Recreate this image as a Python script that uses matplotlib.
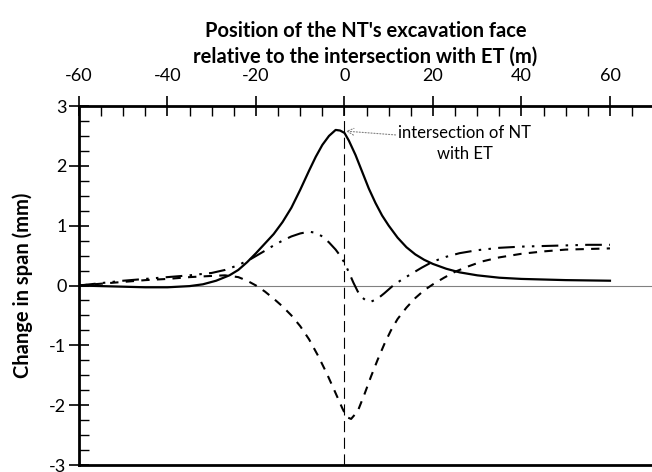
import numpy as np
import matplotlib
matplotlib.use("Agg")
import matplotlib.pyplot as plt
from matplotlib.ticker import MultipleLocator

plt.rcParams['font.family'] = ['Lato', 'DejaVu Sans']
plt.rcParams['axes.unicode_minus'] = False

# solid curve
x_solid = [-60, -55, -50, -45, -40, -35, -32, -29, -26, -24, -22, -20, -18, -16, -14, -12, -10, -8, -6.5, -5, -3.5, -2, -1, 0, 1, 2.5, 4, 5.5, 7, 8.5, 10, 12, 14, 16, 18, 20, 23, 26, 30, 35, 40, 45, 50, 55, 60]
y_solid = [0.0, -0.01, -0.02, -0.03, -0.03, -0.01, 0.02, 0.08, 0.17, 0.26, 0.39, 0.54, 0.7, 0.86, 1.06, 1.3, 1.6, 1.92, 2.15, 2.35, 2.5, 2.6, 2.59, 2.55, 2.42, 2.18, 1.9, 1.62, 1.38, 1.17, 1.0, 0.8, 0.64, 0.52, 0.43, 0.36, 0.28, 0.22, 0.17, 0.13, 0.11, 0.1, 0.09, 0.085, 0.08]

# short dashed curve
x_dash = [-60, -55, -50, -45, -40, -35, -30, -27, -24, -22, -20, -18, -16, -14, -12, -10, -8, -6, -4, -2, -0.5, 0.5, 1.5, 3, 4.5, 6, 7.5, 9, 10.5, 12, 14, 16, 18, 20, 22.5, 25, 28, 31, 35, 40, 45, 50, 55, 60]
y_dash = [0.0, 0.03, 0.06, 0.09, 0.11, 0.14, 0.16, 0.17, 0.14, 0.08, 0.0, -0.1, -0.22, -0.35, -0.5, -0.68, -0.9, -1.17, -1.47, -1.8, -2.05, -2.2, -2.23, -2.1, -1.82, -1.52, -1.24, -0.98, -0.75, -0.56, -0.37, -0.21, -0.08, 0.02, 0.13, 0.23, 0.32, 0.4, 0.47, 0.53, 0.57, 0.6, 0.61, 0.62]

# dash-dot-dot curve
x_dd = [-60, -55, -50, -45, -40, -35, -30, -27, -24, -21, -18, -16, -14, -12, -10, -8, -6.5, -5, -3.5, -2, -1, 0, 1, 2, 3, 4, 5, 6, 7.5, 9, 11, 13, 15, 17.5, 20, 23, 26, 30, 35, 40, 45, 50, 55, 60]
y_dd = [0.0, 0.04, 0.08, 0.11, 0.14, 0.17, 0.21, 0.26, 0.34, 0.45, 0.58, 0.67, 0.75, 0.82, 0.87, 0.9, 0.88, 0.82, 0.72, 0.6, 0.5, 0.38, 0.22, 0.05, -0.1, -0.2, -0.26, -0.27, -0.22, -0.13, 0.0, 0.1, 0.19, 0.3, 0.4, 0.48, 0.54, 0.59, 0.63, 0.65, 0.66, 0.67, 0.68, 0.68]

fig = plt.figure(figsize=(6.52, 4.72), dpi=100)
ax = fig.add_axes([79 / 652, 7 / 472, 573 / 652, 359 / 472])

ax.axhline(0, color='#808080', lw=0.8, zorder=1)
ax.axvline(0, color='black', lw=0.8, ls=(0, (10, 5)), zorder=1)

ax.plot(x_solid, y_solid, color='black', lw=1.6)
ax.plot(x_dash, y_dash, color='black', lw=1.5, ls=(0, (4, 3.5)))
ax.plot(x_dd, y_dd, color='black', lw=1.5, ls=(0, (8, 3.5, 1.2, 3.5, 1.2, 3.5)))

ax.set_xlim(-60, 69.5)
ax.set_ylim(-3, 3)

ax.xaxis.tick_top()
ax.xaxis.set_label_position('top')
ax.xaxis.set_major_locator(MultipleLocator(20))
ax.xaxis.set_minor_locator(MultipleLocator(5))
ax.yaxis.set_major_locator(MultipleLocator(1))
ax.yaxis.set_minor_locator(MultipleLocator(0.25))

ax.tick_params(axis='both', which='major', direction='inout', length=14, width=1.2, labelsize=13, pad=2)
ax.tick_params(axis='x', which='major', pad=9)
ax.tick_params(axis='both', which='minor', direction='in', length=7, width=1.0)

for s in ['left', 'top', 'bottom']:
    ax.spines[s].set_linewidth(2)
ax.spines['right'].set_visible(False)

ax.set_xlabel("Position of the NT's excavation face\nrelative to the intersection with ET (m)",
              fontsize=14.5, fontweight='bold', labelpad=4, linespacing=1.3)
ax.set_ylabel("Change in span (mm)", fontsize=14.5, fontweight='bold', labelpad=12)

ax.annotate("intersection of NT\nwith ET", xy=(0.3, 2.58), xytext=(27.2, 2.37),
            ha='center', va='center', fontsize=12, linespacing=1.35,
            arrowprops=dict(arrowstyle='->', color='#808080', lw=0.8, ls=':',
                            shrinkA=0, shrinkB=0,
                            relpos=(0.05, 0.72)))

fig.savefig('out.png', dpi=100)
